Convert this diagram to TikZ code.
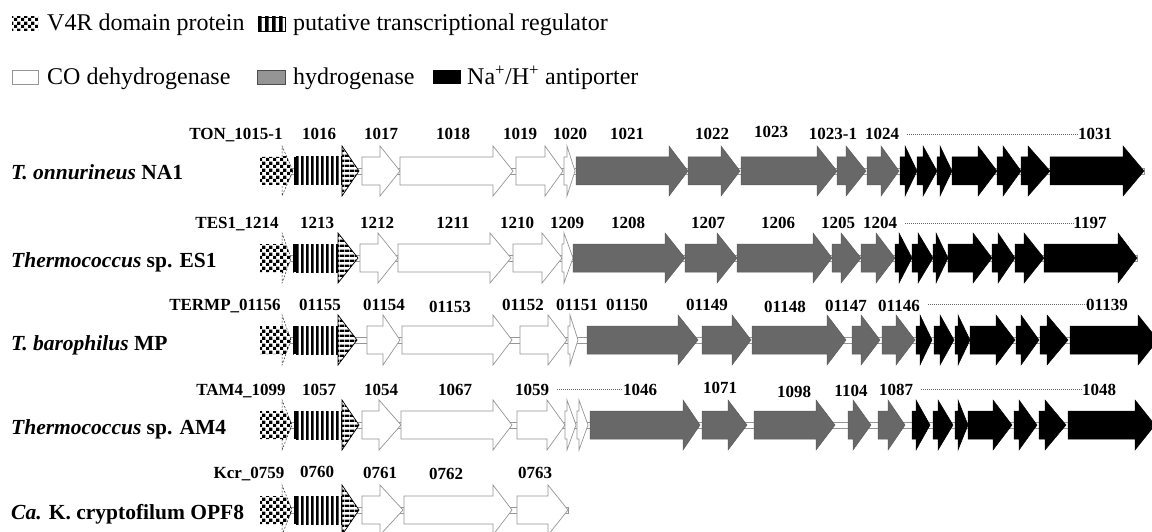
\documentclass[tikz,border=0pt]{standalone}
\usepackage{fontspec}
\setmainfont{Liberation Serif}
\usetikzlibrary{patterns.meta}
\tikzdeclarepattern{
  name=mychk,
  tile size={(7pt,7pt)},
  bottom left={(0pt,0pt)}, top right={(7pt,7pt)},
  code={\fill (0pt,0pt) rectangle (3.5pt,3.5pt); \fill (3.5pt,3.5pt) rectangle (7pt,7pt);}
}
\tikzdeclarepattern{
  name=myvstr,
  tile size={(5.4pt,5.4pt)},
  bottom left={(0pt,0pt)}, top right={(5.4pt,5.4pt)},
  code={\fill (0pt,0pt) rectangle (2.9pt,5.4pt);}
}
\tikzdeclarepattern{
  name=mylegstr,
  tile size={(6.8pt,6.8pt)},
  bottom left={(0pt,0pt)}, top right={(6.8pt,6.8pt)},
  code={\fill (0pt,0pt) rectangle (3.6pt,6.8pt);}
}
\tikzdeclarepattern{
  name=myhstr,
  tile size={(5pt,5pt)},
  bottom left={(0pt,0pt)}, top right={(5pt,5pt)},
  code={\fill (0pt,0pt) rectangle (5pt,2.7pt);}
}
\definecolor{hydro}{HTML}{686868}
\definecolor{hydroedge}{HTML}{5A5A5A}
\definecolor{leghydro}{HTML}{959595}
\definecolor{wedge}{HTML}{959595}
\tikzset{
  whitearr/.style={fill=white, draw=wedge, line width=0.7pt},
  grayarr/.style={fill=hydro, draw=hydroedge, line width=0.5pt},
  blackarr/.style={fill=black, draw=black, line width=0.5pt},
  bone/.style={fill=white, draw=wedge, line width=0.5pt},
  vdash/.style={draw=black!80, line width=0.5pt, dash pattern=on 2pt off 1.5pt},
  gene/.style={font=\fontsize{17}{20}\selectfont\bfseries, anchor=base, inner sep=0pt},
  species/.style={font=\fontsize{21.5}{25}\selectfont\bfseries, anchor=base west, inner sep=0pt},
  legtext/.style={font=\fontsize{24}{28}\selectfont, anchor=base west, inner sep=0pt},
  dots/.style={draw=black!60, line width=0.5pt, dash pattern=on 1pt off 1pt},
}
% arrow: style, x0, xb, xt, y
\newcommand\GArr[5]{\path[#1] (#2,#5-14) -- (#3,#5-14) -- (#3,#5-25) -- (#4,#5) -- (#3,#5+25) -- (#3,#5+14) -- (#2,#5+14) -- cycle;}
% checkered arrow: x0, xb, xt, y
\newcommand\VArr[4]{%
  \fill[white] (#1,#4-14) -- (#2,#4-14) -- (#2,#4-25) -- (#3,#4) -- (#2,#4+25) -- (#2,#4+14) -- (#1,#4+14) -- cycle;
  \begin{scope}
    \clip (#1,#4-14) rectangle (#3,#4+14);
    \fill[pattern=mychk] (#1,#4-14) -- (#2,#4-14) -- (#2,#4-25) -- (#3,#4) -- (#2,#4+25) -- (#2,#4+14) -- (#1,#4+14) -- cycle;
  \end{scope}
  \draw[vdash] (#2,#4-14) -- (#2,#4-25) -- (#3,#4) -- (#2,#4+25) -- (#2,#4+14);}
% striped arrow: x0, xb, xt, y
\newcommand\SArr[4]{%
  \fill[white] (#1,#4-14) rectangle (#2,#4+14);
  \fill[pattern=myvstr] (#1,#4-14) rectangle (#2,#4+14);
  \fill[black] (#1,#4-14) rectangle (#1+2.5,#4+14);
  \fill[white] (#2,#4-25) -- (#3,#4) -- (#2,#4+25) -- cycle;
  \fill[pattern=myhstr] (#2,#4-25) -- (#3,#4) -- (#2,#4+25) -- cycle;
  \draw[black, line width=0.7pt] (#2,#4-25) -- (#3,#4) -- (#2,#4+25) -- cycle;}
% backbone: x0, x1, y
\newcommand\Bone[3]{\draw[bone] (#1,#3-3) rectangle (#2,#3+3);}
\begin{document}
\begin{tikzpicture}[x=1pt,y=-1pt]
\useasboundingbox (0,0) rectangle (1152,532);
\clip (0,0) rectangle (1152,532);
\fill[white] (0,0) rectangle (1152,532);
% ---------------- legend
\fill[white] (12,17) rectangle (38,31);
\fill[pattern=mychk] (12,17) rectangle (38,31);
\node[legtext] (l1) at (47,31) {V4R domain protein};
\fill[white] (258,17) rectangle (285,31);
\fill[pattern=mylegstr] (258,17) rectangle (285,31);
\draw[black, line width=0.6pt] (258,17) rectangle (285,31);
\node[legtext] (l2) at (293,31) {putative transcriptional regulator};
\draw[wedge, fill=white, line width=0.7pt] (12,70) rectangle (38,84);
\node[legtext] (l3) at (47,85) {CO dehydrogenase};
\draw[draw=black!70, fill=leghydro, line width=0.7pt] (257,70) rectangle (285,84);
\node[legtext] (l4) at (293,85) {hydrogenase};
\fill[black] (433,70) rectangle (461,84);
\node[legtext] (l5) at (467,85) {Na\textsuperscript{+}/H\textsuperscript{+} antiporter};
% ---------------- row 1
\node[species] (s1) at (11,180) {\textit{T. onnurineus} NA1};
\Bone{260}{1144}{171}
\VArr{260}{282}{293}{171}
\SArr{294}{342}{359}{171}
\GArr{whitearr}{362}{380}{400}{171}
\GArr{whitearr}{400}{493}{513}{171}
\GArr{whitearr}{516}{545}{563}{171}
\GArr{whitearr}{564}{567}{575}{171}
\GArr{grayarr}{576}{669}{688}{171}
\GArr{grayarr}{688}{721}{740}{171}
\GArr{grayarr}{741}{817}{837}{171}
\GArr{grayarr}{837}{846}{866}{171}
\GArr{grayarr}{867}{881}{899}{171}
\GArr{blackarr}{900}{905}{917}{171}
\GArr{blackarr}{917}{923}{937}{171}
\GArr{blackarr}{937}{940}{952}{171}
\GArr{blackarr}{952}{978}{997}{171}
\GArr{blackarr}{997}{1003}{1021}{171}
\GArr{blackarr}{1021}{1028}{1050}{171}
\GArr{blackarr}{1050}{1123}{1144}{171}
\node[gene] (g101) at (236,140) {TON\_1015-1};
\node[gene] (g102) at (319,140) {1016};
\node[gene] (g103) at (381,140) {1017};
\node[gene] (g104) at (453,140) {1018};
\node[gene] (g105) at (520,140) {1019};
\node[gene] (g106) at (570,140) {1020};
\node[gene] (g107) at (627,140) {1021};
\node[gene] (g108) at (712,140) {1022};
\node[gene] (g109) at (771,138) {1023};
\node[gene] (g110) at (833,140) {1023-1};
\node[gene] (g111) at (882,140) {1024};
\node[gene] (g112) at (1095,140) {1031};
\draw[dots] (g111.east |- 0,134) ++(8,0) coordinate (d1a) -- (g112.west |- 0,134) ++(-8,0) coordinate (d1b);
% ---------------- row 2
\node[species] (s2) at (11,267) {\textit{Thermococcus} sp. ES1};
\Bone{260}{1137}{258}
\VArr{260}{282}{291}{258}
\SArr{293}{338}{358}{258}
\GArr{whitearr}{360}{378}{398}{258}
\GArr{whitearr}{398}{490}{511}{258}
\GArr{whitearr}{513}{542}{562}{258}
\GArr{whitearr}{562}{564}{573}{258}
\GArr{grayarr}{573}{665}{685}{258}
\GArr{grayarr}{685}{717}{737}{258}
\GArr{grayarr}{737}{813}{832}{258}
\GArr{grayarr}{832}{841}{861}{258}
\GArr{grayarr}{861}{876}{895}{258}
\GArr{blackarr}{895}{899}{912}{258}
\GArr{blackarr}{912}{918}{933}{258}
\GArr{blackarr}{933}{936}{948}{258}
\GArr{blackarr}{948}{973}{992}{258}
\GArr{blackarr}{992}{998}{1015}{258}
\GArr{blackarr}{1015}{1024}{1044}{258}
\GArr{blackarr}{1044}{1118}{1137}{258}
\node[gene] (g201) at (237,229) {TES1\_1214};
\node[gene] (g202) at (317,229) {1213};
\node[gene] (g203) at (377,229) {1212};
\node[gene] (g204) at (453,229) {1211};
\node[gene] (g205) at (517,229) {1210};
\node[gene] (g206) at (567,229) {1209};
\node[gene] (g207) at (628,229) {1208};
\node[gene] (g208) at (708,229) {1207};
\node[gene] (g209) at (778,229) {1206};
\node[gene] (g210) at (838,229) {1205};
\node[gene] (g211) at (880,229) {1204};
\node[gene] (g212) at (1090,229) {1197};
\draw[dots] (g211.east |- 0,223) ++(8,0) coordinate (d2a) -- (g212.west |- 0,223) ++(-8,0) coordinate (d2b);
% ---------------- row 3
\node[species] (s3) at (11,350) {\textit{T. barophilus} MP};
\Bone{260}{1152}{340}
\VArr{260}{282}{291}{340}
\SArr{293}{338}{357}{340}
\GArr{whitearr}{367}{383}{400}{340}
\GArr{whitearr}{402}{493}{512}{340}
\GArr{whitearr}{520}{548}{567}{340}
\GArr{whitearr}{568}{570}{578}{340}
\GArr{grayarr}{587}{678}{698}{340}
\GArr{grayarr}{702}{732}{751}{340}
\GArr{grayarr}{752}{827}{846}{340}
\GArr{grayarr}{852}{861}{880}{340}
\GArr{grayarr}{882}{896}{915}{340}
\GArr{blackarr}{916}{920}{932}{340}
\GArr{blackarr}{934}{940}{954}{340}
\GArr{blackarr}{955}{958}{970}{340}
\GArr{blackarr}{970}{996}{1015}{340}
\GArr{blackarr}{1016}{1021}{1039}{340}
\GArr{blackarr}{1040}{1047}{1068}{340}
\GArr{blackarr}{1070}{1138}{1158}{340}
\node[gene] (g301) at (225,310) {TERMP\_01156};
\node[gene] (g302) at (320,310) {01155};
\node[gene] (g303) at (384,310) {01154};
\node[gene] (g304) at (450,312) {01153};
\node[gene] (g305) at (523,310) {01152};
\node[gene] (g306) at (577,310) {01151};
\node[gene] (g307) at (627,310) {01150};
\node[gene] (g308) at (707,310) {01149};
\node[gene] (g309) at (785,312) {01148};
\node[gene] (g310) at (846,311) {01147};
\node[gene] (g311) at (899,311) {01146};
\node[gene] (g312) at (1107,310) {01139};
\draw[dots] (g311.east |- 0,304) ++(8,0) coordinate (d3a) -- (g312.west |- 0,304) ++(-8,0) coordinate (d3b);
% ---------------- row 4
\node[species] (s4) at (11,434) {\textit{Thermococcus} sp. AM4};
\Bone{260}{1152}{425}
\VArr{260}{282}{292}{425}
\SArr{294}{342}{359}{425}
\GArr{whitearr}{362}{379}{401}{425}
\GArr{whitearr}{401}{493}{512}{425}
\GArr{whitearr}{517}{547}{565}{425}
\GArr{whitearr}{565}{567}{576}{425}
\GArr{whitearr}{577}{579}{588}{425}
\GArr{grayarr}{590}{683}{700}{425}
\GArr{grayarr}{702}{728}{747}{425}
\GArr{grayarr}{754}{816}{835}{425}
\GArr{grayarr}{848}{853}{871}{425}
\GArr{grayarr}{878}{888}{905}{425}
\GArr{blackarr}{912}{916}{930}{425}
\GArr{blackarr}{933}{938}{953}{425}
\GArr{blackarr}{955}{958}{968}{425}
\GArr{blackarr}{968}{993}{1012}{425}
\GArr{blackarr}{1014}{1019}{1037}{425}
\GArr{blackarr}{1039}{1045}{1066}{425}
\GArr{blackarr}{1068}{1135}{1155}{425}
\node[gene] (g401) at (241,395) {TAM4\_1099};
\node[gene] (g402) at (319,395) {1057};
\node[gene] (g403) at (381,395) {1054};
\node[gene] (g404) at (455,395) {1067};
\node[gene] (g405) at (532,395) {1059};
\node[gene] (g406) at (640,395) {1046};
\node[gene] (g407) at (720,393) {1071};
\node[gene] (g408) at (794,397) {1098};
\node[gene] (g409) at (851,396) {1104};
\node[gene] (g410) at (896,395) {1087};
\node[gene] (g411) at (1099,395) {1048};
\draw[dots] (g405.east |- 0,389) ++(8,0) coordinate (d4a) -- (g406.west |- 0,389) ++(-8,0) coordinate (d4b);
\draw[dots] (g410.east |- 0,389) ++(8,0) coordinate (d4c) -- (g411.west |- 0,389) ++(-8,0) coordinate (d4d);
% ---------------- row 5
\node[species] (s5) at (11,519) {\textit{Ca.} K. cryptofilum OPF8};
\Bone{260}{568}{510}
\VArr{260}{282}{292}{510}
\SArr{294}{342}{359}{510}
\GArr{whitearr}{362}{380}{403}{510}
\GArr{whitearr}{404}{493}{512}{510}
\GArr{whitearr}{517}{548}{568}{510}
\node[gene] (g501) at (249,478) {Kcr\_0759};
\node[gene] (g502) at (317,477) {0760};
\node[gene] (g503) at (380,478) {0761};
\node[gene] (g504) at (446,479) {0762};
\node[gene] (g505) at (535,478) {0763};
\end{tikzpicture}
\end{document}
